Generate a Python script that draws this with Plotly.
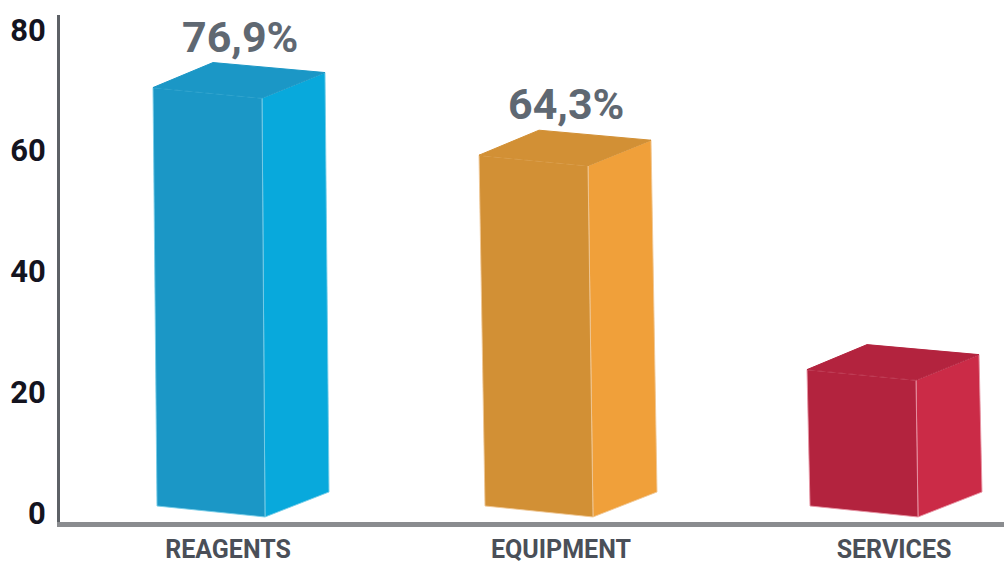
import plotly.graph_objects as go

categories = ["REAGENTS", "EQUIPMENT", "SERVICES"]
front_heights = [68.7, 57.5, 22.0]
value_labels = ["76,9%", "64,3%", ""]
y_ticks = [0, 20, 40, 60, 80]

front_colors = ["#1b97c6", "#d29035", "#b3233e"]
side_colors = ["#08a9dc", "#f0a03a", "#cb2b47"]
edge_colors = ["rgba(120,205,232,0.9)", "rgba(240,200,150,0.9)", "rgba(232,150,165,0.9)"]

# geometry of the pseudo-3D boxes, in pixels of the 1004x565 page
PX_PER_CAT = 333.0
PX_PER_UNIT = 6.04
corner_shift_px = [34, 27, 22]      # front-right edge relative to the category tick
base_slant_px = [3, 5, 2]
base_value = -0.66


def dx(px):
    return px / PX_PER_CAT


def dy(px):
    return px / PX_PER_UNIT


fig = go.Figure()
for i, (cat, h) in enumerate(zip(categories, front_heights)):
    xr = i + dx(corner_shift_px[i])
    xb = xr + dx(base_slant_px[i])
    front_x = [xr + dx(-109), xr, xb, xb + dx(-108), xr + dx(-109)]
    front_y = [h + dy(10.5), h, base_value, base_value + dy(11), h + dy(10.5)]
    side_x = [xr, xr + dx(63), xb + dx(64), xb, xr]
    side_y = [h, h + dy(25.5), base_value + dy(25), base_value, h]
    top_x = [xr + dx(-109), xr + dx(-49), xr + dx(63), xr, xr + dx(-109)]
    top_y = [h + dy(10.5), h + dy(35.5), h + dy(25.5), h, h + dy(10.5)]
    for xs, ys, col, edge in (
        (side_x, side_y, side_colors[i], edge_colors[i]),
        (front_x, front_y, front_colors[i], edge_colors[i]),
        (top_x, top_y, front_colors[i], front_colors[i]),
    ):
        fig.add_trace(go.Scatter(
            x=xs, y=ys, mode="lines", fill="toself", fillcolor=col,
            line=dict(color=edge, width=1), name=cat, showlegend=False,
            hoverinfo="skip",
        ))
    if value_labels[i]:
        fig.add_annotation(
            x=xr + dx(-22), y=h + dy(35.5), text=value_labels[i], showarrow=False,
            yanchor="bottom", yshift=-1,
            font=dict(family="Roboto", size=43, color="#5f6872", weight="bold"),
        )

fig.update_layout(
    width=1004, height=565,
    margin=dict(l=60, r=0, t=15, b=43, autoexpand=False),
    paper_bgcolor="white", plot_bgcolor="white",
    showlegend=False,
    xaxis=dict(
        range=[-0.5045, 2.3303], tickmode="array", tickvals=[0, 1, 2], ticktext=categories,
        showgrid=False, zeroline=False, showline=True, linecolor="#8a8c8f", linewidth=5,
        ticks="", ticklabelstandoff=1, automargin=False,
        tickfont=dict(family="Roboto", size=25, color="#4a4f58", weight="bold"),
    ),
    yaxis=dict(
        range=[-1.49, 82.45], tickmode="array", tickvals=y_ticks,
        showgrid=False, zeroline=False, showline=True, linecolor="#5d6166", linewidth=3,
        ticks="", ticklabelstandoff=5, automargin=False,
        tickfont=dict(family="Roboto", size=31, color="#14141f", weight="bold"),
    ),
)
fig.write_html(
    "out.html",
    config={"displayModeBar": False},
    post_script="document.body.style.margin='0';document.documentElement.style.overflow='hidden';",
)
